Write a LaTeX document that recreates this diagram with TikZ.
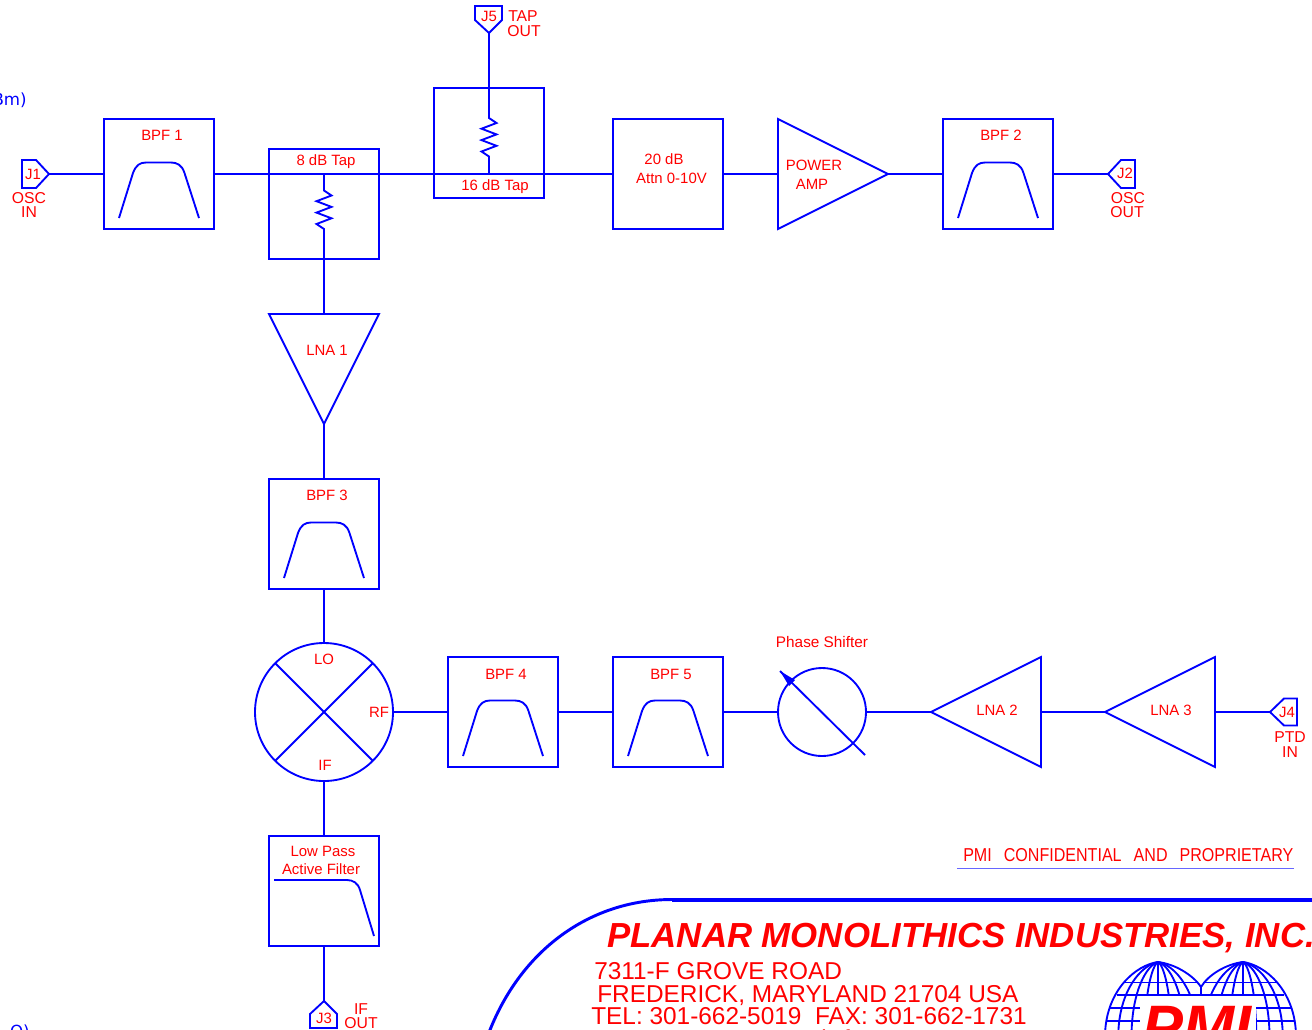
\documentclass[tikz,border=0pt]{standalone}
\usepackage{fontspec}
\setmainfont{Liberation Sans}
\newfontfamily\notefont{DejaVu Sans}
\newcommand{\zigzag}{-- ++(7.5,5) -- ++(-15,5.7) -- ++(15,5.7) -- ++(-15,5.7) -- ++(15,5.7) -- ++(-15,5.7) -- ++(7.5,5)}

\begin{document}
\begin{tikzpicture}[x=0.75pt,y=-0.75pt]
\tikzstyle{trace}=[draw=blue,line width=1.4pt]
\tikzstyle{fat}=[draw=blue,line width=2.2pt]
\tikzstyle{block}=[trace,minimum size=82.5pt,inner sep=0,outer sep=0]
\tikzstyle{disc}=[trace,circle,inner sep=0,outer sep=0]
\tikzstyle{lbl}=[red,inner sep=0,text depth=0pt,font=\fontsize{11.2}{13}\selectfont]
\tikzstyle{lblbig}=[lbl,font=\fontsize{11.8}{13}\selectfont]
\tikzstyle{addr}=[anchor=base west,red,inner sep=0,font=\fontsize{18.3}{20}\selectfont]
\path[use as bounding box,clip] (0,0) rectangle (1312,1029);

\node[anchor=base east,blue,inner sep=0,font=\notefont\fontsize{12.5}{14}\selectfont] (notetop) at (27,105) {Bm)};
\node[anchor=base east,blue,inner sep=0,font=\notefont\fontsize{12.5}{14}\selectfont] (notebot) at (30,1037) {O)};

\node[block] (bpfa) at (159,174) {};
\node[block] (tapa) at (324,204) {};
\node[block] (tapb) at (489,143) {};
\node[block] (attn) at (668,174) {};
\node[block] (bpfb) at (998,174) {};
\node[block] (bpfc) at (324,534) {};
\node[block] (bpfd) at (503,712) {};
\node[block] (bpfe) at (668,712) {};
\node[block] (lpf) at (324,891) {};
\node[disc,minimum size=103.5pt] (mix) at (324,712) {};
\node[disc,minimum size=66pt] (ps) at (822,712) {};

\coordinate (jonetip) at (49,174);
\coordinate (jtwotip) at (1108,174);
\coordinate (jthreetip) at (324,1001);
\coordinate (jfourtip) at (1270,712);
\coordinate (jfivetip) at (489,33);
\coordinate (pain) at (778,174);
\coordinate (paout) at (888,174);
\coordinate (lnaain) at (324,314);
\coordinate (lnaaout) at (324,424);
\coordinate (lnabin) at (1041,712);
\coordinate (lnabout) at (931,712);
\coordinate (lnacin) at (1215,712);
\coordinate (lnacout) at (1105,712);

\draw[trace] (22,160)--(36,160)--(jonetip)--(36,188)--(22,188)--cycle;
\draw[trace] (jtwotip)--(1121,160)--(1135,160)--(1135,188)--(1121,188)--cycle;
\draw[trace] (475,6)--(502,6)--(502,20)--(jfivetip)--(475,20)--cycle;
\draw[trace] (jthreetip)--(337,1014)--(337,1028)--(310,1028)--(310,1014)--cycle;
\draw[trace] (jfourtip)--(1284,698.5)--(1297,698.5)--(1297,725.5)--(1284,725.5)--cycle;
\draw[trace] (778,119)--(paout)--(778,229)--cycle;
\draw[trace] (269,314)--(379,314)--(lnaaout)--cycle;
\draw[trace] (lnabout)--(1041,657)--(1041,767)--cycle;
\draw[trace] (lnacout)--(1215,657)--(1215,767)--cycle;

\draw[trace] (jonetip)--(bpfa.west);
\draw[trace] (bpfa.east)--(attn.west);
\draw[trace] (attn.east)--(pain);
\draw[trace] (paout)--(bpfb.west);
\draw[trace] (bpfb.east)--(jtwotip);
\draw[trace] (tapa.south)--(lnaain);
\draw[trace] (lnaaout)--(bpfc.north);
\draw[trace] (bpfc.south)--(mix.north);
\draw[trace] (mix.east)--(bpfd.west);
\draw[trace] (bpfd.east)--(bpfe.west);
\draw[trace] (bpfe.east)--(ps.west);
\draw[trace] (ps.east)--(lnabout);
\draw[trace] (lnabin)--(lnacout);
\draw[trace] (lnacin)--(jfourtip);
\draw[trace] (mix.south)--(lpf.north);
\draw[trace] (lpf.south)--(jthreetip);

\coordinate (fata) at (558,174);
\coordinate (fatb) at (765,174);
\coordinate (fatc) at (875,712);
\coordinate (fatd) at (1050,712);
\draw[fat] (fata)--(attn.west);
\draw[fat] (attn.east)--(fatb);
\draw[fat] (fatc)--(lnabout);
\draw[fat] (fatd)--(lnacout);

\coordinate (tapajoin) at (324,174);
\coordinate (tapares) at (324,190.5);
\coordinate (tapbjoin) at (489,174);
\coordinate (tapbres) at (489,118);
\draw[trace] (tapajoin)--(tapares) \zigzag --(tapa.south);
\draw[trace] (jfivetip)--(tapbres) \zigzag --(tapbjoin);

\foreach \f in {bpfa,bpfb,bpfc,bpfd,bpfe}
  \draw[trace,shift={(\f.center)}] (-40,44)--(-26,-1) .. controls (-23,-9) and (-19,-11.5) .. (-13,-11.5)
    --(12,-11.5) .. controls (18,-11.5) and (23,-9) .. (25.5,-1)--(40,44);
\draw[trace] (274,880)--(347,880) .. controls (353,880) and (358,883) .. (360,890)--(374,936);

\draw[trace] (mix.45)--(mix.225);
\draw[trace] (mix.135)--(mix.-45);
\coordinate (psa) at (780,671);
\coordinate (psb) at (865,755);
\draw[trace] (psa)--(psb);
\fill[blue] (psa)--(795,680)--(789,686)--cycle;

\node[lbl] (bpfatext) at (162,135) {BPF 1};
\node[lbl] (tapatext) at (326,160) {8 dB Tap};
\node[lbl] (tapbtext) at (495,185.5) {16 dB Tap};
\node[lbl] (attntexta) at (664,159.5) {20 dB};
\node[lbl] (attntextb) at (671.5,178) {Attn 0-10V};
\node[lbl] (patexta) at (814,165.5) {POWER};
\node[lbl] (patextb) at (812,184) {AMP};
\node[lbl] (bpfbtext) at (1001,135) {BPF 2};
\node[lbl] (jonetext) at (33,174) {J1};
\node[lblbig] (oscin) at (29,198) {OSC};
\node[lblbig] (oscinb) at (29,212) {IN};
\node[lbl] (jtwotext) at (1125,173.5) {J2};
\node[lblbig] (oscout) at (1128,198) {OSC};
\node[lblbig] (oscoutb) at (1127,212) {OUT};
\node[lbl] (jfivetext) at (489,16) {J5};
\node[lblbig] (tapout) at (523,16) {TAP};
\node[lblbig] (tapoutb) at (524,31) {OUT};
\node[lbl] (lnaatext) at (327,350) {LNA 1};
\node[lbl] (bpfctext) at (327,495) {BPF 3};
\node[lbl] (lotext) at (324,659) {LO};
\node[lbl] (rftext) at (379,712) {RF};
\node[lbl] (iftext) at (325,765) {IF};
\node[lbl] (bpfdtext) at (506,674) {BPF 4};
\node[lbl] (bpfetext) at (671,674) {BPF 5};
\node[lblbig,font=\fontsize{11.5}{13}\selectfont] (pstext) at (822,642) {Phase Shifter};
\node[lbl] (lnabtext) at (997,710.5) {LNA 2};
\node[lbl] (lnactext) at (1171,710.5) {LNA 3};
\node[lbl] (jfourtext) at (1287,712) {J4};
\node[lblbig] (ptdin) at (1290,737) {PTD};
\node[lblbig] (ptdinb) at (1290,752) {IN};
\node[lbl] (lpftexta) at (323,851) {Low Pass};
\node[lbl] (lpftextb) at (321,869) {Active Filter};
\node[lbl] (jthreetext) at (324,1018) {J3};
\node[lblbig] (ifout) at (361,1009) {IF};
\node[lblbig] (ifoutb) at (361,1023) {OUT};

\node[lbl,anchor=base west,font=\fontsize{14}{16}\selectfont] (conf) at (963,861)
  {\resizebox{247.5pt}{\height}{PMI\hspace{0.75em}CONFIDENTIAL\hspace{0.75em}AND\hspace{0.75em}PROPRIETARY}};
\coordinate (confa) at (957,868);
\coordinate (confb) at (1294,868);
\draw[blue!60,line width=0.7pt] (confa)--(confb);

\coordinate (framea) at (1320,899.5);
\coordinate (frameb) at (672,899.5);
\coordinate (framec) at (488,1035);
\draw[blue,line width=3pt] (framea)--(frameb);
\draw[blue,line width=2.2pt] (frameb) .. controls (590,899.5) and (520,950) .. (framec);
\node[anchor=base west,red,inner sep=0,font=\bfseries\itshape\fontsize{26.1}{28}\selectfont] (company) at (607,947) {PLANAR MONOLITHICS INDUSTRIES, INC.};
\node[addr] (adra) at (594,979.5) {7311-F GROVE ROAD};
\node[addr] (adrb) at (597,1002) {FREDERICK, MARYLAND 21704 USA};
\node[addr] (adrc) at (591,1024) {TEL: 301-662-5019\ \ FAX: 301-662-1731};
\node[addr] (adrd) at (592,1047.5) {WEBSITE:\ \ \ www.pmi-rf.com};

\begin{scope}
\foreach \t in {-1,-0.75,-0.5,-0.25,0.25,0.5,0.75}
  \draw[trace,shift={(1158,0)},xscale=\t] (0,962) .. controls (22,965) and (52,990) .. (53,1035);
\foreach \t in {-0.75,-0.5,-0.25,0.25,0.5,0.75,1}
  \draw[trace,shift={(1243,0)},xscale=\t] (0,962) .. controls (22,965) and (52,990) .. (53,1035);
\draw[trace] (1158,962) .. controls (1175,964) and (1193,975) .. (1201,987);
\draw[trace] (1243,962) .. controls (1226,964) and (1208,975) .. (1201,987);
\draw[trace] (1201,987)--(1201,996);
\draw[trace] (1158,962)--(1158,996);
\draw[trace] (1243,962)--(1243,996);
\draw[trace] (1124,982.5)--(1197,982.5);
\draw[trace] (1205,982.5)--(1277,982.5);
\draw[trace] (1116.5,995)--(1284,995);
\draw[trace] (1109,1008)--(1292,1008);
\draw[trace] (1106,1020.7)--(1294,1020.7);
\fill[white] (1140,996) rectangle (1256,1035);
\node[anchor=base west,red,inner sep=0,font=\bfseries\itshape\fontsize{46}{50}\selectfont] (pmilogo) at (1142,1048) {PMI};
\end{scope}
\end{tikzpicture}
\end{document}
